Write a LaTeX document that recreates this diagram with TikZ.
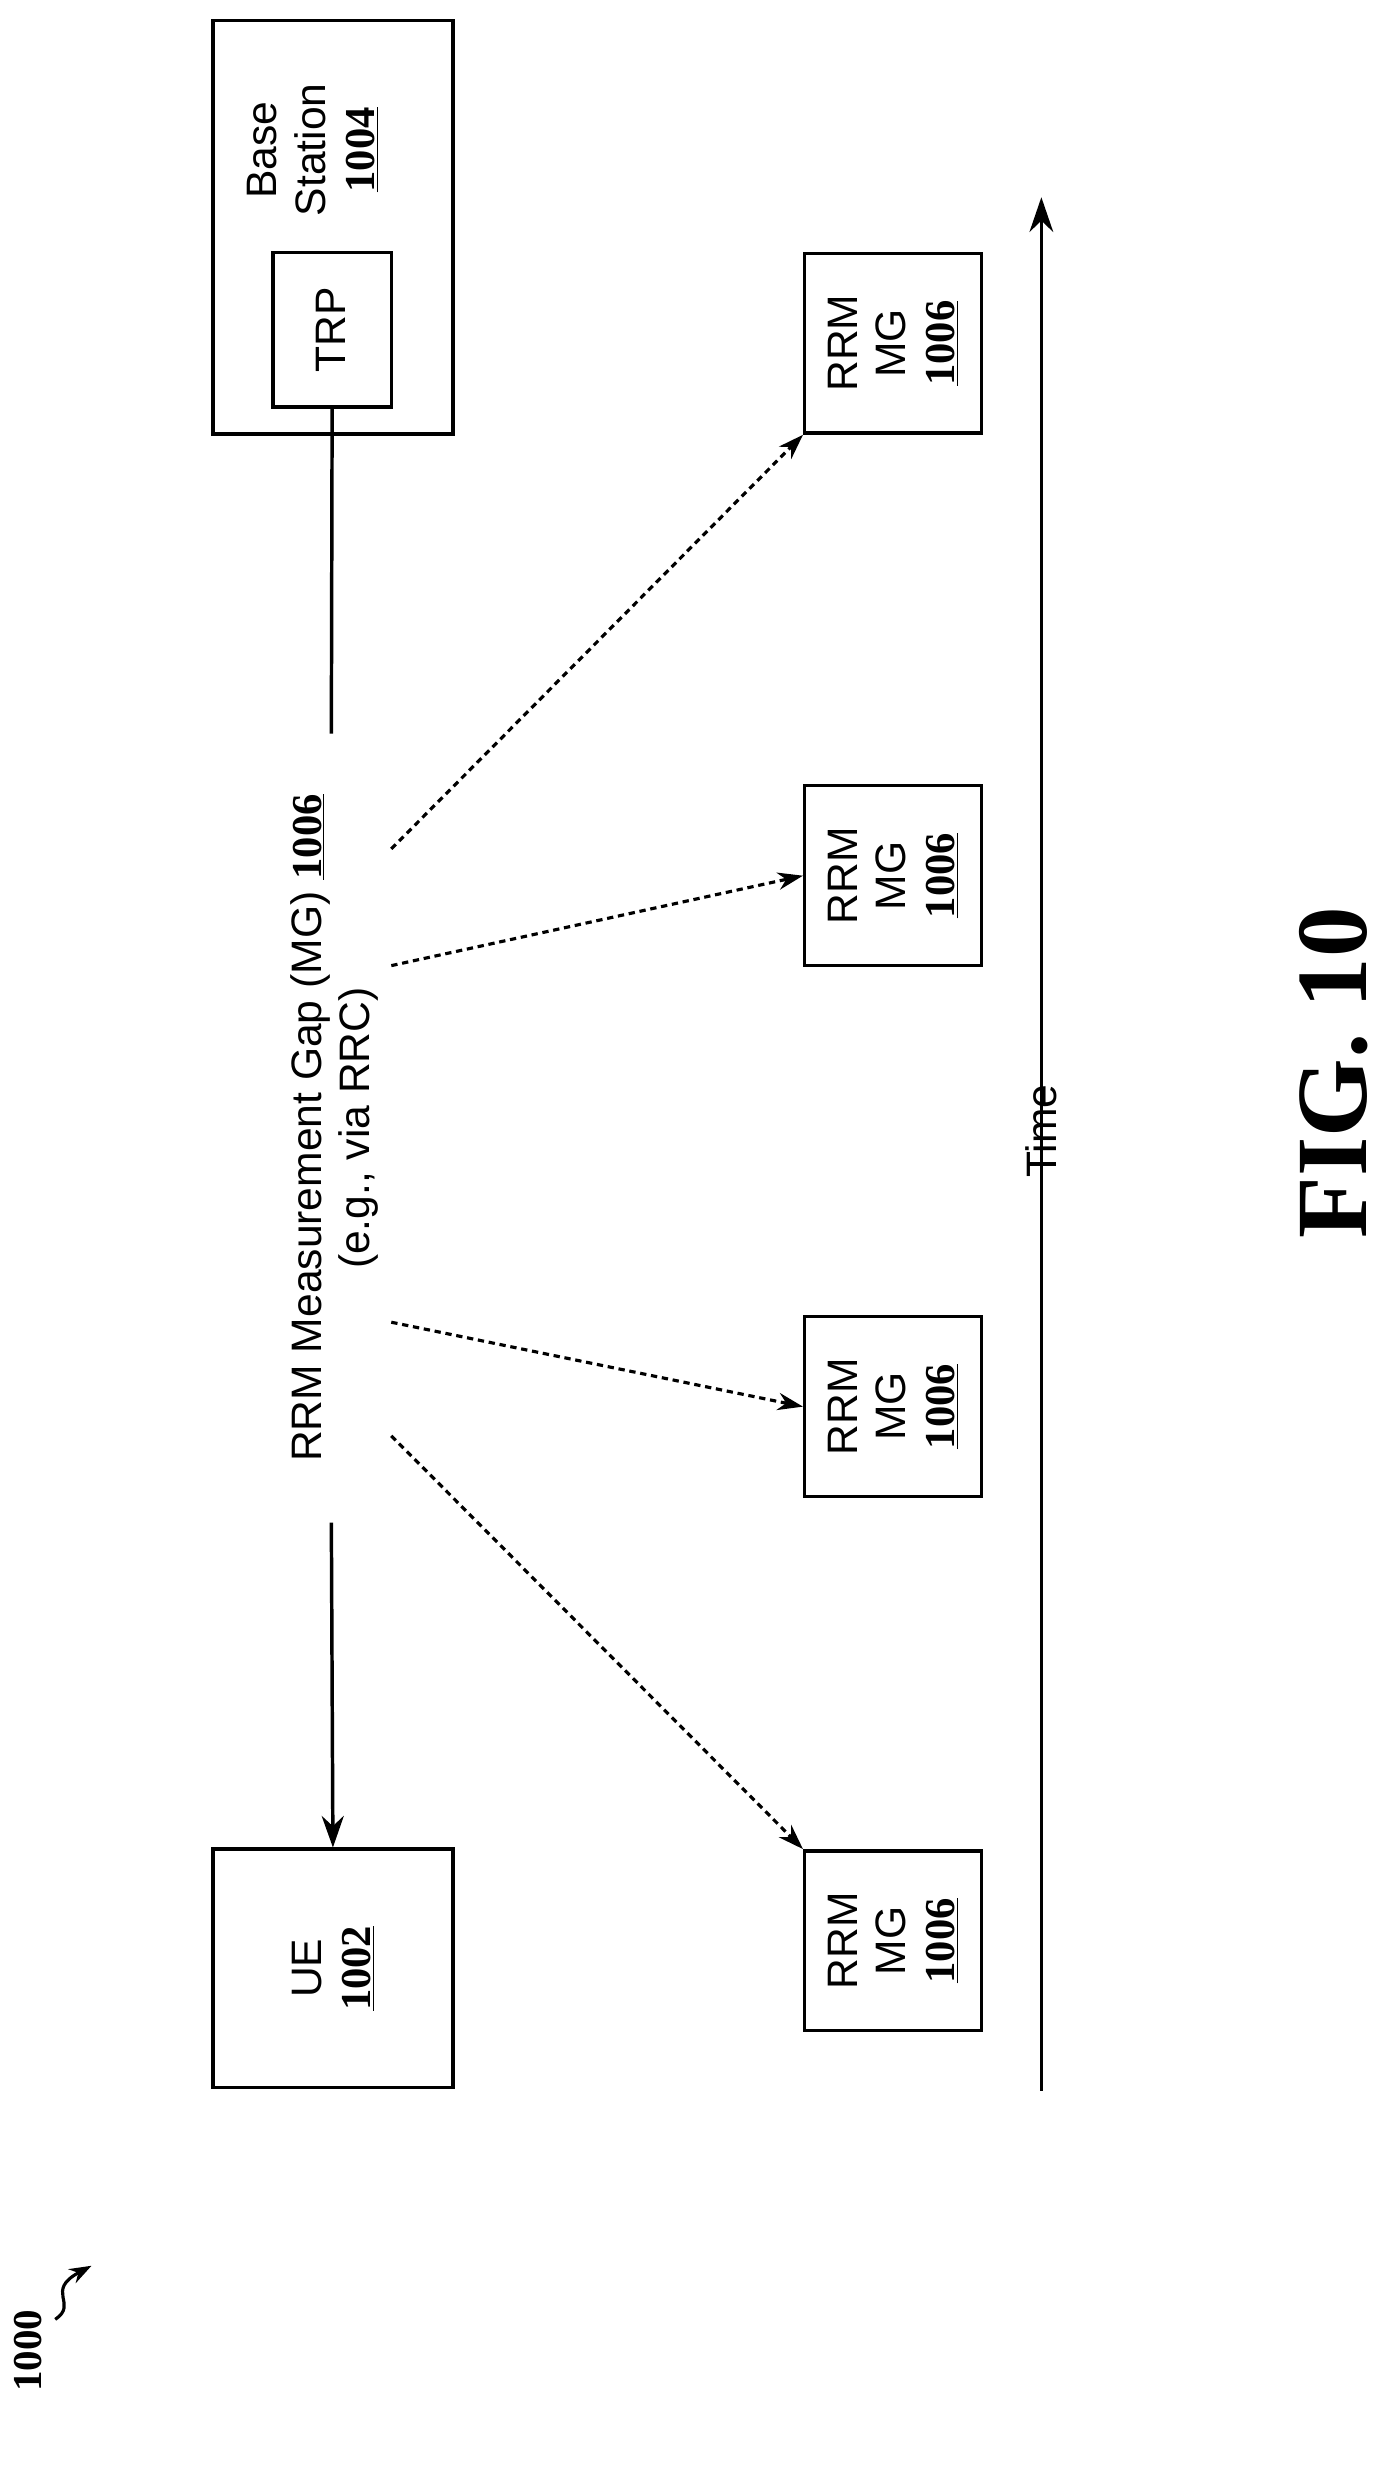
\documentclass[tikz,border=0pt]{standalone}
\usepackage{fontspec}
\setmainfont{Liberation Sans}
\newfontfamily\figfont{Liberation Serif}
\usetikzlibrary{arrows.meta}
\tikzset{
  box/.style={draw,line width=2.2pt},
  lbl/.style={rotate=90,align=center,font=\fontsize{27}{31}\selectfont},
  num/.style={font=\figfont\bfseries\fontsize{26}{30}\selectfont},
  dsh/.style={line width=2pt,dash pattern={on 4pt off 3pt},-{Stealth[length=16pt,width=11pt]}},
  sol/.style={line width=2.2pt}
}
\newcommand{\refnum}[1]{{\figfont\bfseries\underline{#1}}}
\begin{document}
\begin{tikzpicture}[x=1pt,y=-1pt]
\useasboundingbox (0,0) rectangle (880,1568);
% base station with TRP
\draw[box] (135,13) rectangle (287,275);
\node[box,minimum width=75pt,minimum height=98pt] (trp) at (210.5,209) {};
\node[lbl] at (210,209) {TRP};
\node[lbl] (bs) at (198,95) {Base\\Station\\\refnum{1004}};
% UE
\node[box,minimum width=152pt,minimum height=151pt] (ue) at (211,1247.5) {};
\node[lbl] at (211,1247.5) {UE\\\refnum{1002}};
% message label and lines
\node[lbl] (msg) at (212,715) {RRM Measurement Gap (MG) \refnum{1006}\\(e.g., via RRC)};
\coordinate (m1) at (210,465);
\coordinate (m2) at (210,965);
\draw[sol] (trp.south) -- (m1);
\draw[sol,-{Stealth[length=20pt,width=14pt]}] (m2) -- (ue.north);
% measurement gaps
\foreach \n/\y in {a/217.5,b/555,c/891.5,d/1230}{
  \node[box,minimum width=112pt,minimum height=114pt] (mg\n) at (566,\y) {};
  \node[lbl] at (566,\y) {RRM\\MG\\\refnum{1006}};
}
\coordinate (s1) at (248,538);
\coordinate (s2) at (248,612);
\coordinate (s3) at (248,838);
\coordinate (s4) at (248,910);
\draw[dsh] (s1) -- (mga.south west);
\draw[dsh] (s2) -- (mgb.west);
\draw[dsh] (s3) -- (mgc.west);
\draw[dsh] (s4) -- (mgd.north west);
% time axis
\coordinate (t0) at (660,1325);
\coordinate (t1) at (660,125);
\node[lbl,fill=white,inner sep=3pt] (time) at (660,717) {Time};
\draw[sol] (t0) -- (time.east);
\draw[sol,-{Stealth[length=22pt,width=15pt]}] (time.west) -- (t1);
% figure label
\node[rotate=90,font=\figfont\bfseries\fontsize{64}{70}\selectfont] (fig) at (845,680) {FIG. 10};
\node[rotate=90,num] (ref) at (18,1490) {1000};
\draw[line width=2pt,-{Stealth[length=14pt,width=10pt]}] (35,1470) .. controls (50,1460) and (28,1452) .. (58,1436);
\end{tikzpicture}
\end{document}
